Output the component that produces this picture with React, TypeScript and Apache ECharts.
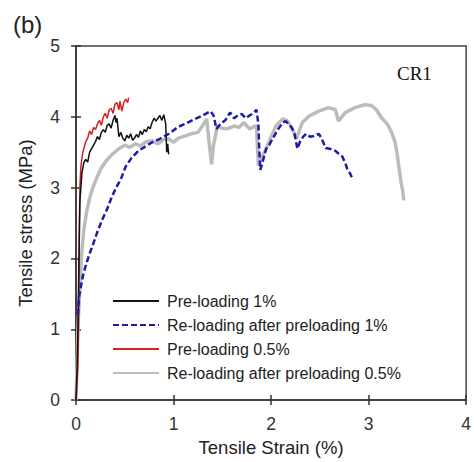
import React, { useEffect, useRef } from "react";
import * as echarts from "echarts";

const xTicks = [0, 1, 2, 3, 4];
const yTicks = [0, 1, 2, 3, 4, 5];

const seriesNames = [
  "Pre-loading 1%",
  "Re-loading after preloading 1%",
  "Pre-loading 0.5%",
  "Re-loading after preloading 0.5%",
];

const preload1: [number, number][] = [
  [0, 0], [0.01, 0.4], [0.02, 1.0], [0.03, 2.0], [0.04, 2.8], [0.06, 3.2], [0.08, 3.35], [0.1, 3.4],
  [0.12, 3.36], [0.14, 3.5], [0.16, 3.55], [0.18, 3.6], [0.2, 3.65], [0.22, 3.72], [0.24, 3.68],
  [0.26, 3.78], [0.28, 3.82], [0.3, 3.78], [0.32, 3.88], [0.34, 3.9], [0.36, 3.84], [0.38, 3.95],
  [0.4, 4.02], [0.41, 3.92], [0.42, 3.98], [0.44, 3.72], [0.46, 3.78], [0.48, 3.7], [0.5, 3.66],
  [0.52, 3.74], [0.54, 3.7], [0.56, 3.76], [0.58, 3.67], [0.6, 3.7], [0.62, 3.75], [0.64, 3.71],
  [0.66, 3.8], [0.68, 3.75], [0.7, 3.82], [0.72, 3.79], [0.74, 3.86], [0.76, 3.83], [0.78, 3.92],
  [0.8, 3.98], [0.82, 3.94], [0.84, 3.98], [0.86, 4.02], [0.88, 3.95], [0.9, 4.03], [0.92, 3.9],
  [0.93, 3.5], [0.94, 3.62], [0.95, 3.47],
];

const reload1: [number, number][] = [
  [0.02, 1.2], [0.03, 1.45], [0.05, 1.6], [0.07, 1.75], [0.1, 1.9], [0.14, 2.07], [0.18, 2.22],
  [0.22, 2.38], [0.27, 2.55], [0.32, 2.7], [0.37, 2.88], [0.42, 3.02], [0.46, 3.12], [0.51, 3.3],
  [0.57, 3.42], [0.64, 3.52], [0.71, 3.58], [0.78, 3.64], [0.86, 3.69], [0.95, 3.76], [1.05, 3.86],
  [1.12, 3.9], [1.22, 3.97], [1.3, 4.02], [1.38, 4.08], [1.41, 4.02], [1.44, 3.83], [1.48, 3.9],
  [1.53, 3.95], [1.58, 4.06], [1.62, 3.98], [1.66, 4.02], [1.7, 4.04], [1.74, 3.98], [1.78, 4.02],
  [1.82, 4.05], [1.85, 4.1], [1.87, 3.9], [1.88, 3.5], [1.89, 3.25], [1.92, 3.4], [1.95, 3.55],
  [1.98, 3.6], [2.02, 3.7], [2.07, 3.82], [2.12, 3.92], [2.15, 3.94], [2.18, 3.9], [2.21, 3.85],
  [2.24, 3.76], [2.27, 3.55], [2.3, 3.66], [2.33, 3.72], [2.36, 3.76], [2.4, 3.72], [2.44, 3.73],
  [2.49, 3.76], [2.52, 3.69], [2.56, 3.56], [2.6, 3.55], [2.66, 3.52], [2.7, 3.47], [2.73, 3.44],
  [2.76, 3.35], [2.78, 3.27], [2.81, 3.2], [2.83, 3.14],
];

const preload05: [number, number][] = [
  [0, 0], [0.02, 0.5], [0.03, 1.5], [0.035, 2.5], [0.04, 3.0], [0.05, 3.3], [0.07, 3.5], [0.1, 3.65],
  [0.12, 3.7], [0.14, 3.8], [0.16, 3.75], [0.18, 3.85], [0.2, 3.82], [0.22, 3.9], [0.24, 3.95],
  [0.26, 3.88], [0.28, 4.0], [0.3, 4.05], [0.32, 3.98], [0.34, 4.1], [0.36, 4.12], [0.38, 4.05],
  [0.4, 4.18], [0.42, 4.2], [0.44, 4.1], [0.45, 4.22], [0.47, 4.08], [0.49, 4.2], [0.51, 4.25],
  [0.53, 4.2], [0.54, 4.27],
];

const reload05: [number, number][] = [
  [0, 0], [0.01, 0.5], [0.02, 1.0], [0.04, 1.6], [0.06, 2.1], [0.08, 2.4], [0.11, 2.67], [0.14, 2.85],
  [0.17, 2.99], [0.21, 3.13], [0.26, 3.28], [0.31, 3.38], [0.37, 3.47], [0.44, 3.55], [0.5, 3.6],
  [0.55, 3.57], [0.61, 3.62], [0.66, 3.59], [0.72, 3.65], [0.78, 3.66], [0.84, 3.62], [0.9, 3.68],
  [0.95, 3.69], [1.0, 3.64], [1.05, 3.7], [1.12, 3.73], [1.18, 3.76], [1.25, 3.78], [1.3, 3.88],
  [1.34, 3.97], [1.36, 3.7], [1.39, 3.33], [1.41, 3.6], [1.45, 3.87], [1.5, 3.84], [1.55, 3.83],
  [1.62, 3.87], [1.67, 3.85], [1.72, 3.92], [1.78, 3.83], [1.82, 3.86], [1.85, 3.87], [1.86, 3.6],
  [1.87, 3.31], [1.9, 3.42], [1.95, 3.55], [2.0, 3.72], [2.05, 3.87], [2.12, 3.97], [2.17, 3.94],
  [2.22, 3.83], [2.26, 3.69], [2.32, 3.92], [2.39, 4.01], [2.49, 4.08], [2.59, 4.13], [2.66, 4.1],
  [2.69, 3.94], [2.76, 4.06], [2.86, 4.13], [2.96, 4.17], [3.03, 4.16], [3.08, 4.1], [3.13, 3.99],
  [3.19, 3.9], [3.23, 3.8], [3.27, 3.65], [3.29, 3.5], [3.31, 3.3], [3.33, 3.1], [3.35, 2.95],
  [3.36, 2.82],
];

const FONT = "'Liberation Sans', Arial, sans-serif";

export default function App() {
  const ref = useRef<HTMLDivElement>(null);
  useEffect(() => {
    if (!ref.current) return;
    const chart = echarts.init(ref.current, undefined, { renderer: "svg" });
    const xMin = xTicks[0], xMax = xTicks[xTicks.length - 1];
    const yMin = yTicks[0], yMax = yTicks[yTicks.length - 1];
    const tickStyle = { color: "#333", width: 1.5 };
    chart.setOption({
      animation: false,
      backgroundColor: "#fff",
      grid: {
        left: 76, right: 2, top: 46, bottom: 57,
        show: true, borderColor: "#444", borderWidth: 1.5,
      },
      xAxis: [
        {
          type: "value", min: xMin, max: xMax, interval: 1,
          name: "Tensile Strain (%)", nameLocation: "middle", nameGap: 37,
          nameTextStyle: { fontFamily: FONT, fontSize: 18.5, color: "#222" },
          axisLine: { show: true, lineStyle: { color: "#333", width: 1.5 } },
          axisTick: { show: true, inside: false, length: 5, lineStyle: tickStyle },
          axisLabel: { margin: 15, fontFamily: FONT, fontSize: 17.5, color: "#333", showMaxLabel: true },
          splitLine: { show: false },
        },
        {
          type: "value", min: xMin, max: xMax, interval: 1, position: "bottom",
          axisLine: { show: false },
          axisTick: { show: true, inside: true, length: 5, lineStyle: tickStyle },
          axisLabel: { show: false },
          splitLine: { show: false },
        },
      ],
      yAxis: [
        {
          type: "value", min: yMin, max: yMax, interval: 1,
          name: "Tensile stress (MPa)", nameLocation: "middle", nameGap: 41, nameRotate: 90,
          nameTextStyle: { fontFamily: FONT, fontSize: 18.5, color: "#222" },
          axisLine: { show: true, lineStyle: { color: "#333", width: 1.5 } },
          axisTick: { show: true, inside: false, length: 5, lineStyle: tickStyle },
          axisLabel: { margin: 16, fontFamily: FONT, fontSize: 17.5, color: "#333" },
          splitLine: { show: false },
        },
        {
          type: "value", min: yMin, max: yMax, interval: 1, position: "left",
          axisLine: { show: false },
          axisTick: { show: true, inside: true, length: 5, lineStyle: tickStyle },
          axisLabel: { show: false },
          splitLine: { show: false },
        },
      ],
      legend: {
        orient: "vertical",
        left: 107, top: 288,
        itemWidth: 46, itemHeight: 14, itemGap: 8,
        itemStyle: { opacity: 0 },
        textStyle: { fontFamily: FONT, fontSize: 16, color: "#222", padding: [0, 0, 0, 3] },
        data: seriesNames,
      },
      series: [
        {
          name: seriesNames[3], type: "line", data: reload05, symbol: "none",
          lineStyle: { color: "#bcbcbc", width: 3.5 }, itemStyle: { color: "#bcbcbc" }, z: 1,
        },
        {
          name: seriesNames[0], type: "line", data: preload1, symbol: "none",
          lineStyle: { color: "#111", width: 1.5 }, itemStyle: { color: "#111" }, z: 3,
        },
        {
          name: seriesNames[2], type: "line", data: preload05, symbol: "none",
          lineStyle: { color: "#d42020", width: 1.5 }, itemStyle: { color: "#d42020" }, z: 2,
        },
        {
          name: seriesNames[1], type: "line", data: reload1, symbol: "none",
          lineStyle: { color: "#1c1ca6", width: 2.5, type: [6, 3] }, itemStyle: { color: "#1c1ca6" }, z: 4,
        },
      ],
      graphic: [
        {
          type: "text", left: 13, top: 12,
          style: { text: "(b)", font: `24px ${FONT}`, fill: "#222" },
        },
        {
          type: "text", left: 397, top: 64,
          style: { text: "CR1", font: "19px 'Liberation Serif', 'Times New Roman', serif", fill: "#111" },
        },
      ],
    });
    return () => chart.dispose();
  }, []);
  return <div ref={ref} style={{ width: 474, height: 462, position: "absolute", left: 0, top: 0 }} />;
}
